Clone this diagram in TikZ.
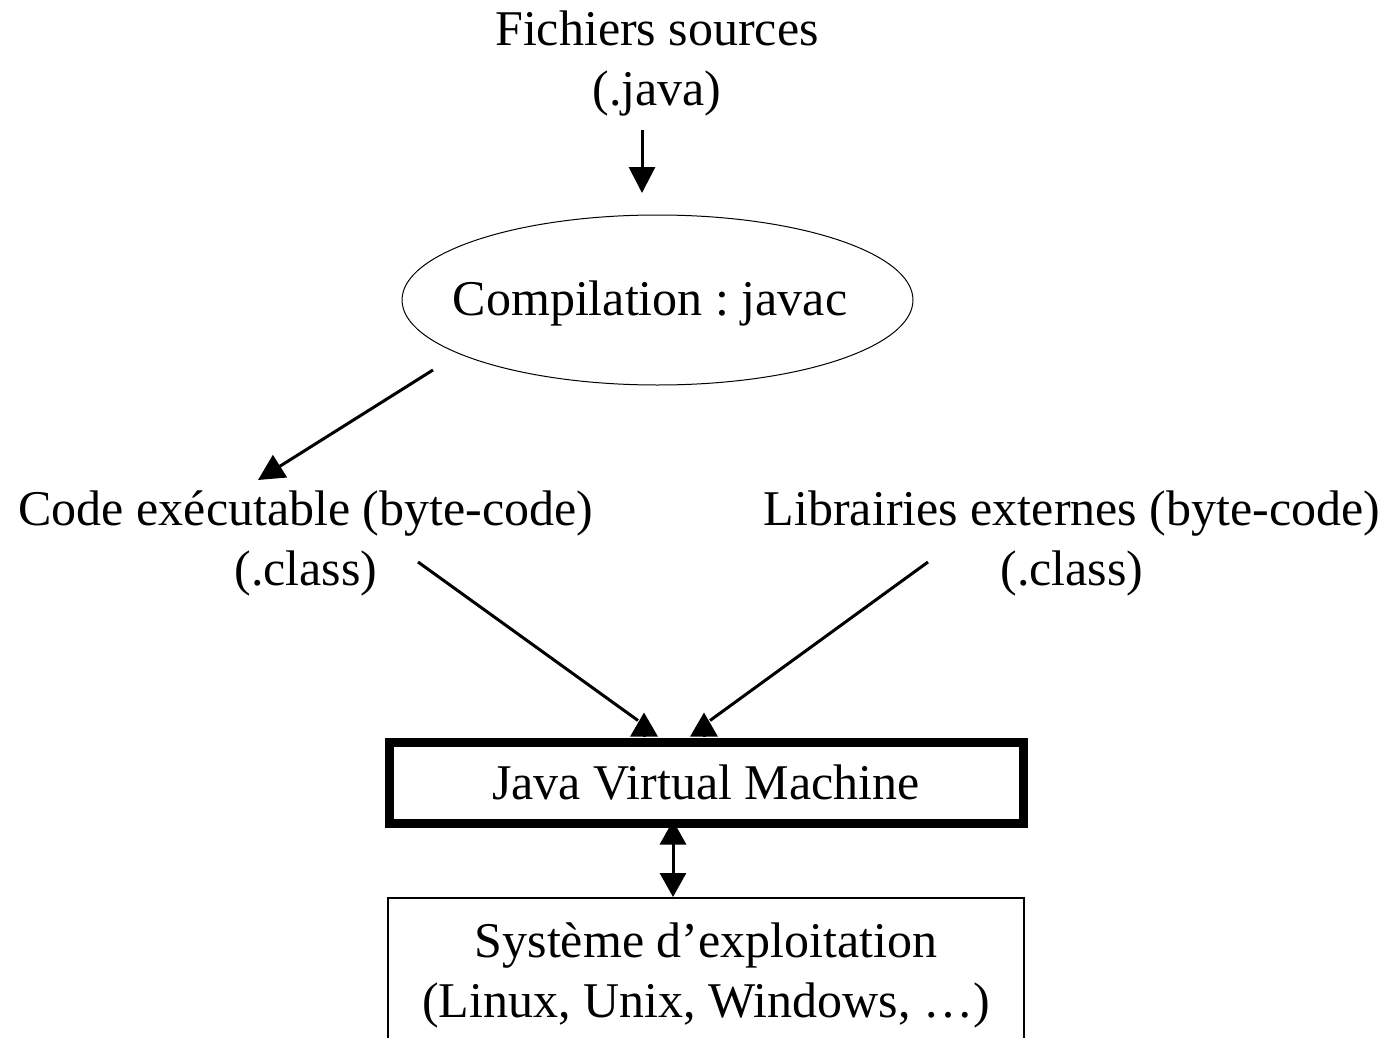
\documentclass[tikz,border=0pt]{standalone}
\usepackage{fontspec}
\setmainfont{Liberation Serif}
\usetikzlibrary{arrows.meta,calc,positioning,shapes.geometric}

\tikzset{
    lbl/.style={align=center, inner sep=0pt},
    flow/.style={line width=1.5pt, -{Triangle[length=13pt,width=13pt]}},
    wire/.style={line width=1.5pt},
    headup/.style={line width=1.5pt, {Triangle[length=12pt,width=13.5pt]}-},
    biflow/.style={line width=1.5pt, {Triangle[length=12pt,width=13pt]}-{Triangle[length=12pt,width=13pt]}},
}

\begin{document}
\begin{tikzpicture}[x=0.5pt, y=-0.5pt, font=\fontsize{25}{30}\selectfont\frenchspacing]
    \useasboundingbox (0,0) rectangle (1392,1038);

    % sources and compiler
    \node[lbl] (src) at (657,63) {Fichiers sources\\(.java)};
    \node[draw, ellipse, line width=0.5pt, inner sep=0pt,
          minimum width=255.5pt, minimum height=85pt] (comp) at (657.5,300) {};
    \node[lbl] (comptxt) at (650,303) {Compilation : javac};

    % byte-code on both sides
    \node[lbl] (code) at (306,543) {Code exécutable (byte-code)\\(.class)};
    \node[lbl] (lib) at (1072,543) {Librairies externes (byte-code)\\(.class)};

    % the virtual machine and the system under it
    \node[draw, line width=4.5pt, minimum width=317pt, minimum height=40.5pt,
          inner sep=0pt] (jvm) at (706,782.5) {Java Virtual Machine};
    \node[draw, line width=1pt, minimum width=318pt, minimum height=77pt,
          inner sep=0pt, align=center] (os) at (706,975) {Système d’exploitation\\(Linux, Unix, Windows, …)};

    % free ends of the connectors
    \coordinate (srcout) at (642,130);
    \coordinate (compin) at (642,193);
    \coordinate (compout) at (433,370);
    \coordinate (codein) at (258,480);
    \coordinate (codeout) at (418,562);
    \coordinate (libout) at (928,562);
    \coordinate (jvmL) at ([xshift=-31pt,yshift=12.5pt]jvm.north);
    \coordinate (jvmR) at ([xshift=-1pt,yshift=12.5pt]jvm.north);

    \draw[flow] (srcout) -- (compin);
    \draw[flow] (compout) -- (codein);

    \draw[wire] (codeout) -- ([xshift=-3pt,yshift=-4pt]jvmL);
    \draw[headup] (jvmL) -- ++(0,24);
    \draw[wire] (libout) -- ([xshift=3pt,yshift=-4pt]jvmR);
    \draw[headup] (jvmR) -- ++(0,24);

    \draw[biflow] ([xshift=-16.5pt,yshift=3.5pt]jvm.south) -- ([xshift=-16.5pt]os.north);
\end{tikzpicture}
\end{document}
